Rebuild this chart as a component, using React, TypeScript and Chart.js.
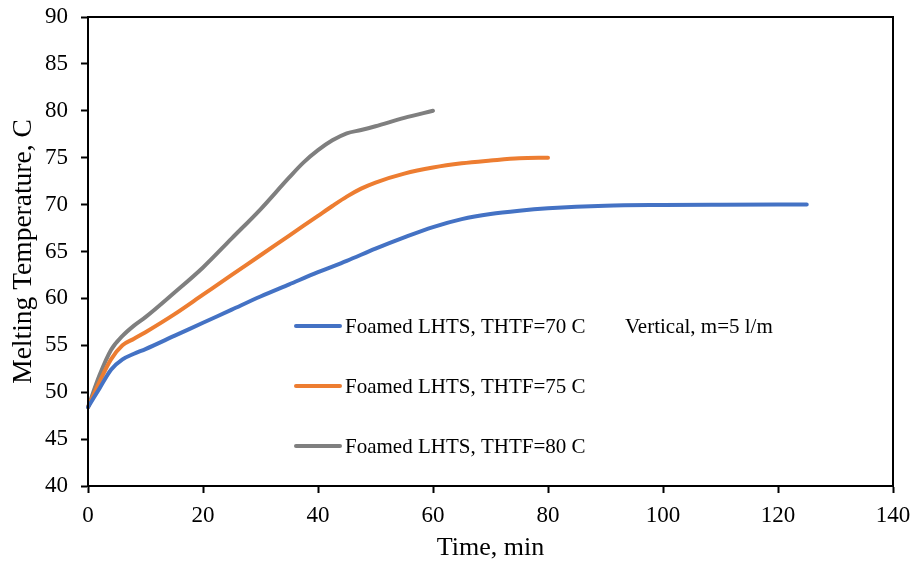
import React, { useEffect, useRef } from "react";
import { Chart, registerables } from "chart.js";

Chart.register(...registerables);

// ---- Data ----
const seriesLabels = [
  "Foamed LHTS, THTF=70 C",
  "Foamed LHTS, THTF=75 C",
  "Foamed LHTS, THTF=80 C",
];
const noteText = "Vertical, m=5 l/m";

const time70 = [0, 2, 4, 6, 8, 10, 15, 20, 25, 30, 35, 40, 45, 50, 55, 60, 65, 70, 75, 80, 90, 100, 110, 125];
const temp70 = [48.4, 50.4, 52.4, 53.5, 54.1, 54.6, 56.0, 57.4, 58.8, 60.2, 61.5, 62.8, 64.0, 65.3, 66.5, 67.6, 68.45, 69.0, 69.35, 69.6, 69.88, 69.96, 69.99, 70.0];

const time75 = [0, 2, 4, 6, 8, 10, 15, 20, 25, 30, 35, 40, 42.5, 45, 47.5, 50, 55, 60, 65, 70, 75, 80];
const temp75 = [48.4, 51.1, 53.5, 55.0, 55.7, 56.4, 58.3, 60.4, 62.5, 64.6, 66.7, 68.8, 69.85, 70.85, 71.7, 72.35, 73.3, 73.95, 74.4, 74.7, 74.95, 75.0];

const time80 = [0, 2, 4, 6, 8, 10, 15, 20, 25, 30, 35, 37.5, 40, 42.5, 45, 47.5, 50, 55, 60];
const temp80 = [48.4, 51.8, 54.5, 56.0, 57.1, 58.0, 60.6, 63.3, 66.4, 69.5, 72.9, 74.5, 75.8, 76.85, 77.6, 77.95, 78.35, 79.25, 80.0];

const seriesColors = ["#4472C4", "#ED7D31", "#7F7F7F"];

const xMin = 0, xMax = 140, xStep = 20;
const yMin = 40, yMax = 90, yStep = 5;

const zip = (xs: number[], ys: number[]) => xs.map((x, i) => ({ x, y: ys[i] }));

const FONT = "'Liberation Serif', 'Times New Roman', serif";

const legendLayout = {
  lineX1: 296,
  lineX2: 340,
  textX: 345,
  rows: [326, 386, 446],
  noteX: 625,
  fontSize: 21,
};

const boxPlugin = {
  id: "boxPlugin",
  afterDatasetsDraw(chart: any) {
    const { ctx, chartArea } = chart;
    ctx.save();
    ctx.strokeStyle = "#000";
    ctx.lineWidth = 2;
    ctx.strokeRect(chartArea.left, chartArea.top, chartArea.right - chartArea.left, chartArea.bottom - chartArea.top);
    ctx.restore();
  },
};

const customLegend = {
  id: "customLegend",
  afterDraw(chart: any) {
    const { ctx } = chart;
    const L = legendLayout;
    ctx.save();
    ctx.font = `${L.fontSize}px ${FONT}`;
    ctx.textBaseline = "middle";
    ctx.textAlign = "left";
    chart.data.datasets.forEach((ds: any, i: number) => {
      const y = L.rows[i];
      ctx.strokeStyle = ds.borderColor;
      ctx.lineWidth = 4;
      ctx.lineCap = "round";
      ctx.beginPath();
      ctx.moveTo(L.lineX1, y);
      ctx.lineTo(L.lineX2, y);
      ctx.stroke();
      ctx.fillStyle = "#000";
      ctx.fillText(ds.label, L.textX, y + 1);
    });
    ctx.fillStyle = "#000";
    ctx.fillText(noteText, L.noteX, L.rows[0] + 1);
    ctx.restore();
  },
};

export default function App() {
  const canvasRef = useRef<HTMLCanvasElement | null>(null);

  useEffect(() => {
    if (!canvasRef.current) return;
    const mk = (i: number, xs: number[], ys: number[]) => ({
      label: seriesLabels[i],
      data: zip(xs, ys),
      borderColor: seriesColors[i],
      backgroundColor: seriesColors[i],
      borderWidth: 4,
      borderCapStyle: "round" as const,
      borderJoinStyle: "round" as const,
      pointRadius: 0,
      cubicInterpolationMode: "monotone" as const,
      fill: false,
      clip: false as any,
    });
    const chart = new Chart(canvasRef.current, {
      type: "line",
      data: {
        datasets: [mk(0, time70, temp70), mk(1, time75, temp75), mk(2, time80, temp80)],
      },
      options: {
        animation: false,
        responsive: true,
        maintainAspectRatio: false,
        layout: { padding: { top: 17, right: 19, left: 0, bottom: 0 } },
        plugins: {
          legend: { display: false },
          tooltip: { enabled: false },
        },
        scales: {
          x: {
            type: "linear",
            min: xMin,
            max: xMax,
            ticks: {
              stepSize: xStep,
              color: "#000",
              font: { family: FONT, size: 23 },
              padding: 9,
              maxRotation: 0,
            },
            grid: {
              display: true,
              drawOnChartArea: false,
              drawTicks: true,
              tickLength: 7,
              tickColor: "#000",
              tickWidth: 2,
            },
            border: { display: true, color: "#000", width: 2 },
            title: {
              display: true,
              text: "Time, min",
              color: "#000",
              font: { family: FONT, size: 26 },
              padding: { top: 0, bottom: 0 },
            },
            afterFit(scale: any) {
              scale.height = 78;
              scale.paddingLeft = 0;
              scale.paddingRight = 0;
            },
          },
          y: {
            type: "linear",
            min: yMin,
            max: yMax,
            ticks: {
              stepSize: yStep,
              color: "#000",
              font: { family: FONT, size: 23 },
              padding: 13,
            },
            grid: {
              display: true,
              drawOnChartArea: false,
              drawTicks: true,
              tickLength: 7,
              tickColor: "#000",
              tickWidth: 2,
            },
            border: { display: true, color: "#000", width: 2 },
            title: {
              display: true,
              text: "Melting Temperature, C",
              color: "#000",
              font: { family: FONT, size: 27.5 },
              padding: { top: 7, bottom: 0 },
            },
            afterFit(scale: any) {
              scale.width = 88;
              scale.paddingTop = 0;
              scale.paddingBottom = 0;
            },
          },
        },
      },
      plugins: [boxPlugin, customLegend],
    });
    return () => chart.destroy();
  }, []);

  return (
    <div style={{ position: "fixed", left: 0, top: 0, width: 912, height: 564, background: "#fff" }}>
      <canvas ref={canvasRef} />
    </div>
  );
}
